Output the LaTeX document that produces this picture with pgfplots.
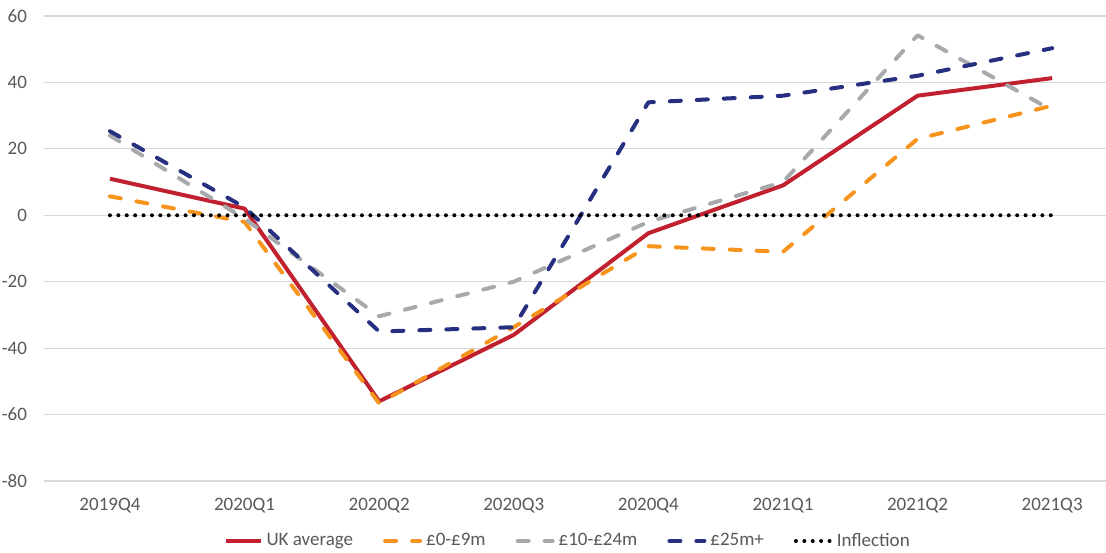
\documentclass[border=0pt]{standalone}
\usepackage{fontspec}
\setmainfont{Carlito}
\usepackage{pgfplots}
\pgfplotsset{compat=1.18}
\definecolor{ukred}{HTML}{C1202F}
\definecolor{sorange}{HTML}{F7941D}
\definecolor{sgray}{HTML}{A7A9AC}
\definecolor{snavy}{HTML}{262F80}
\definecolor{gridgray}{HTML}{D9D9D9}
\definecolor{labelgray}{HTML}{595959}
\begin{document}
\begin{tikzpicture}
\begin{axis}[
  at={(0,0)}, anchor=south west,
  scale only axis, width=531pt, height=232.5pt,
  xmin=-0.49, xmax=7.4, ymin=-80, ymax=60,
  ytick={-80,-60,...,60},
  xtick={0,...,7},
  xticklabels={2019Q4,2020Q1,2020Q2,2020Q3,2020Q4,2021Q1,2021Q2,2021Q3},
  axis line style={draw=none},
  major tick length=0pt,
  ymajorgrids, grid style={draw=gridgray, line width=0.6pt},
  tick label style={font=\fontsize{9.5}{11}\selectfont, text=labelgray},
  /pgf/number format/assume math mode=true,
  yticklabel style={xshift=-5pt},
  xticklabel style={yshift=-5pt},
  legend columns=5,
  legend style={draw=none, at={(rel axis cs:0.494,0)}, anchor=center, yshift=-30pt,
    font=\fontsize{9.5}{11}\selectfont, text=labelgray,
    /tikz/every even column/.append style={column sep=13pt}},
  legend cell align=left,
  legend image code/.code={\draw[#1] (0pt,0pt) -- (17.5pt,0pt);},
  every axis plot/.append style={line join=round},
]
\addplot[ukred, line width=2pt] coordinates {(0,11) (1,2) (2,-56) (3,-36) (4,-5.4) (5,9) (6,36) (7,41.3)};
\addlegendentry{UK average}
\addplot[sorange, line width=2pt, line cap=round, dash pattern=on 5.5pt off 8pt] coordinates {(0,5.7) (1,-2) (2,-56.6) (3,-33.7) (4,-9.3) (5,-11) (6,23) (7,33)};
\addlegendentry{£0-£9m}
\addplot[sgray, line width=2pt, line cap=round, dash pattern=on 5.5pt off 8pt] coordinates {(0,24) (1,-1) (2,-30.4) (3,-20) (4,-2) (5,10) (6,54.2) (7,31.6)};
\addlegendentry{£10-£24m}
\addplot[snavy, line width=2pt, line cap=round, dash pattern=on 5.5pt off 8pt] coordinates {(0,25.3) (1,2.4) (2,-35) (3,-33.7) (4,34) (5,36) (6,42) (7,50.3)};
\addlegendentry{£25m+}
\addplot[black, line width=2pt, line cap=round, dash pattern=on 0pt off 4.2pt] coordinates {(0,0) (7,0)};
\addlegendentry{Inflection}
\end{axis}
\pgfresetboundingbox
\path[use as bounding box] (-22pt,-35.5pt) rectangle (531pt,240.5pt);
\end{tikzpicture}
\end{document}
